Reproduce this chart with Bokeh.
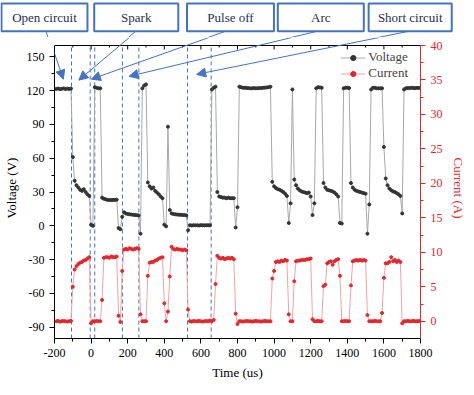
import numpy as np
from bokeh.plotting import figure
from bokeh.models import (LinearAxis, Range1d, Label, Arrow, NormalHead, Legend,
                          LegendItem, ColumnDataSource, FixedTicker)
from bokeh.embed import file_html
from bokeh.resources import INLINE

# ---------------- data ----------------
time_us = list(range(-190, 1801, 10))   # sampling clock, 10 us

voltage_V = [
    121.5, 121.8, 121.3, 121.6, 121.9, 121.4, 121.7, 121.5, 121.8,   # -190..-110 open circuit
    61,                                                              # -100
    40, 36, 34, 32, 31, 32.5, 30, 28, 26.5,                          # -90..-10 spark
    1, 0,                                                            # 0,10
    123, 122.5, 122, 122,                                            # 20..50
    25,                                                              # 60
    24, 23.5, 23, 23, 22.8, 23, 23, 23.2,                            # 70..140
    -2, -3,                                                          # 150,160
    8, 12,                                                           # 170,180
    11, 10.5, 10.2, 10, 9.8, 9.6, 9.4, 9.2,                          # 190..260 arc
    -7,                                                              # 270
    122, 124.5, 125.5,                                               # 280..300
    38.5, 35, 33, 34, 31, 29.5, 28, 26, 24.5,                        # 310..390
    1, -0.5,                                                         # 400,410
    88, 14, 11,                                                      # 420..440
    10.5, 10.2, 10, 9.8, 9.8, 9.6, 9.5, 9.3,                         # 450..520 arc
    -4,                                                              # 530
    0.5, 0.3, 0.6, 0.4, 0.5, 0.3, 0.6, 0.5, 0.4, 0.6, 0.5, 0.4,      # 540..650 short
    121, 122.5, 123.5, 30,                                           # 660..690
    26, 25.5, 25, 25, 24.5, 25, 24.5, 24.5, 24.5,                    # 700..780
    -1.5, 16.5,                                                      # 790,800
    123.5, 123, 122.5, 122.5, 122.3, 122.2, 122, 122, 122.2,         # 810..890
    122, 122.1, 122.3, 122.2, 122.5, 122.6, 122.8, 123, 123.5,       # 900..980
    39, 35, 33.5, 32.5, 32, 31, 30, 28.5, 26.5,                      # 990..1070
    2.5, 20, 121,                                                    # 1080..1100
    41, 36, 33, 31.5, 30.5, 30, 29.5, 29, 29.5, 26,                  # 1110..1200
    9.5, 20,                                                         # 1210,1220
    122, 123, 122.8, 122.5,                                          # 1230..1260
    38, 34, 32, 31.5, 31, 30.5, 29.5, 28, 26,                        # 1270..1350
    2.5, 2,                                                          # 1360,1370
    122, 122.5, 122.5, 122.3,                                        # 1380..1410
    38, 34, 32, 31, 30.5, 30, 29.5, 29, 28.5,                        # 1420..1500
    -7, 19,                                                          # 1510,1520
    121, 122.5, 122.5, 122, 122, 122, 122,                           # 1530..1590
    70,                                                              # 1600
    42, 36, 33, 31.5, 30.5, 30, 29, 28, 26.5,                        # 1610..1690
    11,                                                              # 1700
    121, 122, 122.3, 122.2, 122.5, 122.3, 122.2, 122.4, 122.3, 122.5,  # 1710..1800
]

current_A = [
    0, 0.05, -0.05, 0, 0.05, 0, -0.05, 0, 0.05,
    5.0,
    7.5, 8.0, 8.3, 8.5, 8.6, 8.8, 8.9, 9.1, 9.3,
    -0.3, 0,
    0, 0.05, 0, 0,
    3.1,
    9.2, 9.3, 9.3, 9.2, 9.4, 9.3, 9.3, 9.4,
    0.8, -0.1,
    7.3, 10.4,
    10.5, 10.4, 10.6, 10.5, 10.4, 10.5, 10.6, 10.5,
    1.0,
    0, 0, 0,
    6.6, 8.5, 8.6, 8.6, 8.8, 8.9, 9.1, 9.2, 9.3,
    2.6, 0,
    1.4, 6.5, 10.8,
    10.5, 10.4, 10.5, 10.4, 10.4, 10.3, 10.4, 10.3,
    1.7,
    0, -0.05, 0.05, 0, 0, 0.05, 0, -0.05, 0, 0.05, 0, 0.1,
    0, 0.2, 5.4, 9.5,
    9.2, 9.1, 9.2, 9.0, 9.1, 9.2, 9.1, 9.2, 9.0,
    1.1, -0.4,
    0, 0, -0.05, 0, 0.05, 0, 0, -0.05, 0,
    0.05, 0, 0, -0.05, 0, 0.05, 0, 0, 0,
    6.2, 7.3, 8.6, 8.7, 8.6, 8.8, 8.7, 8.9, 8.8,
    1.0, 0, 0,
    5.8, 8.7, 8.8, 8.8, 8.9, 8.9, 8.9, 9.0, 9.0, 9.1,
    0.3, 0,
    0, 0.05, 0, 0,
    5.1, 5.3, 8.4, 8.6, 8.7, 8.2, 8.7, 8.9, 9.0,
    6.6, 0,
    0, 0.05, 0, 0,
    5.2, 8.7, 8.8, 8.9, 8.8, 8.9, 8.8, 8.9, 8.8,
    0.9, 0,
    0, 0, 0.05, 0, 0, 0, 1.2,
    6.3,
    8.4, 8.4, 8.6, 9.3, 8.7, 8.9, 8.6, 8.8, 8.6,
    -0.3,
    0, 0, 0.05, 0, 0, 0.05, 0, 0, 0.05, 0,
]

event_times_us = [-107, -5, 20, 171, 261, 527, 656]   # dashed markers
state_labels = ["Open circuit", "Spark", "Pulse off", "Arc", "Short circuit"]

x_ticks = [-200, 0, 200, 400, 600, 800, 1000, 1200, 1400, 1600, 1800]
x_minor = list(range(-200, 1801, 100))
v_ticks = [-90, -60, -30, 0, 30, 60, 90, 120, 150]
i_ticks = [0, 5, 10, 15, 20, 25, 30, 35, 40]

# ---------------- layout ----------------
FONT = "Liberation Serif"
RED = "#e5262b"
BLUE = "#4472c4"
W, H = 458, 379
REF_W, REF_H = 474, 395
SX, SY = W / REF_W, H / REF_H
HS = 37                     # strip height (px) holding the state boxes
E = 8                       # px of frame kept above the top of the voltage axis
X0, X1 = -200, 1800
Y0, Y1 = -100, 160
I0, I1 = -2.5, 40
FL, FW, FH = 53, 366, 293   # frame left, width, height of the axes box
KV = FH / (Y1 - Y0)         # px per volt
KI = FH / (I1 - I0)         # px per ampere
YT = Y1 + E / KV
IT = I1 + E / KI
S_REF = HS / SY             # reference row where strip ends / main frame begins

def rx(px):  # reference pixel column -> time (us)
    return X0 + (px * SX - FL) / FW * (X1 - X0)

def ry(py):  # reference pixel row -> voltage (V)
    return YT - (py - S_REF) * SY / KV

# ---- strip with the state boxes (its data space = reference pixels) ----
top = figure(width=W, height=HS, x_range=Range1d(0, REF_W), y_range=Range1d(S_REF, 0),
             x_axis_type=None, y_axis_type=None,
             output_backend="svg", toolbar_location=None, min_border=0)
top.grid.visible = False
top.outline_line_color = None

boxes_px = [(1, 90), (97, 184), (193, 283), (287, 376), (381, 467)]
arrows_px = [((47, 32), (64, 82)), ((140, 32), (80, 83)), ((233, 32), (93, 82)),
             ((328, 32), (132, 79)), ((423, 32), (202, 77))]
BOX_TOP, BOX_BOT = 3, 32

top.quad(left=[b[0] for b in boxes_px], right=[b[1] for b in boxes_px],
         top=[BOX_TOP] * 5, bottom=[BOX_BOT] * 5,
         fill_color="white", line_color=BLUE, line_width=2)
for (l, r), text in zip(boxes_px, state_labels):
    top.add_layout(Label(x=(l + r) / 2, y=(BOX_TOP + BOX_BOT) / 2 + 0.5, text=text,
                         text_align="center", text_baseline="middle", text_font=FONT,
                         text_font_size="13px", text_color="#1f2f4f"))

crossings = []
for (s, e) in arrows_px:
    f = (S_REF - s[1]) / (e[1] - s[1])
    crossings.append(s[0] + f * (e[0] - s[0]))
top.segment(x0=[a[0][0] for a in arrows_px], y0=[a[0][1] for a in arrows_px],
            x1=crossings, y1=[S_REF] * 5, line_color=BLUE, line_width=1)

# ---- main chart ----
p = figure(frame_width=FW, frame_height=FH + E, x_range=Range1d(X0, X1), y_range=Range1d(Y0, YT),
           output_backend="svg", toolbar_location=None,
           min_border_left=FL, min_border_top=0, min_border_right=W - FL - FW,
           min_border_bottom=H - HS - FH - E)
p.extra_y_ranges = {"cur": Range1d(I0, IT)}
p.xgrid.visible = False
p.ygrid.visible = False
p.outline_line_color = None

def style_axis(ax, color="black"):
    ax.axis_line_color = color
    ax.major_tick_line_color = color
    ax.minor_tick_line_color = color
    ax.major_label_text_color = color
    ax.axis_label_text_color = color
    ax.major_label_text_font = FONT
    ax.axis_label_text_font = FONT
    ax.major_label_text_font_size = "12px"
    ax.axis_label_text_font_size = "13px"
    ax.axis_label_text_font_style = "normal"
    ax.major_tick_in = 0
    ax.major_tick_out = 5
    ax.minor_tick_in = 0
    ax.minor_tick_out = 3

def plain_labels(ticks):  # ASCII hyphen for negatives, as in the reference
    return {t: str(t) for t in ticks}

xa = p.xaxis[0]
xa.ticker = FixedTicker(ticks=x_ticks, minor_ticks=x_minor)
xa.axis_label = "Time (us)"
xa.major_label_overrides = plain_labels(x_ticks)
style_axis(xa)

ya = p.yaxis[0]
ya.ticker = FixedTicker(ticks=v_ticks, minor_ticks=list(range(-90, 161, 15)))
ya.axis_label = "Voltage (V)"
ya.major_label_overrides = plain_labels(v_ticks)
ya.bounds = (Y0, Y1)
style_axis(ya)

ra = LinearAxis(y_range_name="cur", axis_label="Current (A)",
                ticker=FixedTicker(ticks=i_ticks, minor_ticks=[k * 2.5 for k in range(0, 17)]))
ra.major_label_overrides = plain_labels(i_ticks)
ra.bounds = (I0, I1)
style_axis(ra, RED)
p.add_layout(ra, "right")

# top edge of the axes box with inward ticks
p.segment(x0=[X0], y0=[Y1], x1=[X1], y1=[Y1], line_color="black", line_width=1)
p.segment(x0=x_ticks, y0=[Y1] * len(x_ticks), x1=x_ticks,
          y1=[Y1 - 4 / KV] * len(x_ticks), line_color="black", line_width=1)
odd = [m for m in x_minor if m not in x_ticks]
p.segment(x0=odd, y0=[Y1] * len(odd), x1=odd, y1=[Y1 - 2 / KV] * len(odd),
          line_color="black", line_width=1)

# dashed event markers, spanning the axes box
p.segment(x0=event_times_us, y0=[Y0] * len(event_times_us), x1=event_times_us,
          y1=[Y1] * len(event_times_us), line_color=BLUE, line_dash="4 3", line_width=1)

src = ColumnDataSource(dict(t=time_us, v=voltage_V, i=current_A))
vline = p.line("t", "v", source=src, line_color="#a8a8a8", line_width=1)
vdots = p.scatter("t", "v", source=src, size=3, color="#333333")
iline = p.line("t", "i", source=src, y_range_name="cur", line_color="#f4a3a3", line_width=1)
idots = p.scatter("t", "i", source=src, y_range_name="cur", size=3, color=RED)

legend = Legend(items=[LegendItem(label="Voltage", renderers=[vline, vdots]),
                       LegendItem(label="Current", renderers=[iline, idots])],
                location="top_right", margin=11, padding=1, spacing=0,
                glyph_width=25, glyph_height=13, label_height=13, label_standoff=3,
                label_text_font=FONT, label_text_font_size="13px",
                border_line_alpha=0, background_fill_alpha=0)
p.add_layout(legend)

# lower parts of the pointer arrows, from the strip edge to their heads
for (s, e), xc in zip(arrows_px, crossings):
    p.add_layout(Arrow(x_start=rx(xc), y_start=YT, x_end=rx(e[0]), y_end=ry(e[1]),
                       line_color=BLUE, line_width=1,
                       end=NormalHead(size=9, fill_color=BLUE, line_color=BLUE)))

# two stacked roots: the box strip and the chart (kept independent so their frames differ)
open("out.html", "w").write(file_html([top, p], INLINE))
